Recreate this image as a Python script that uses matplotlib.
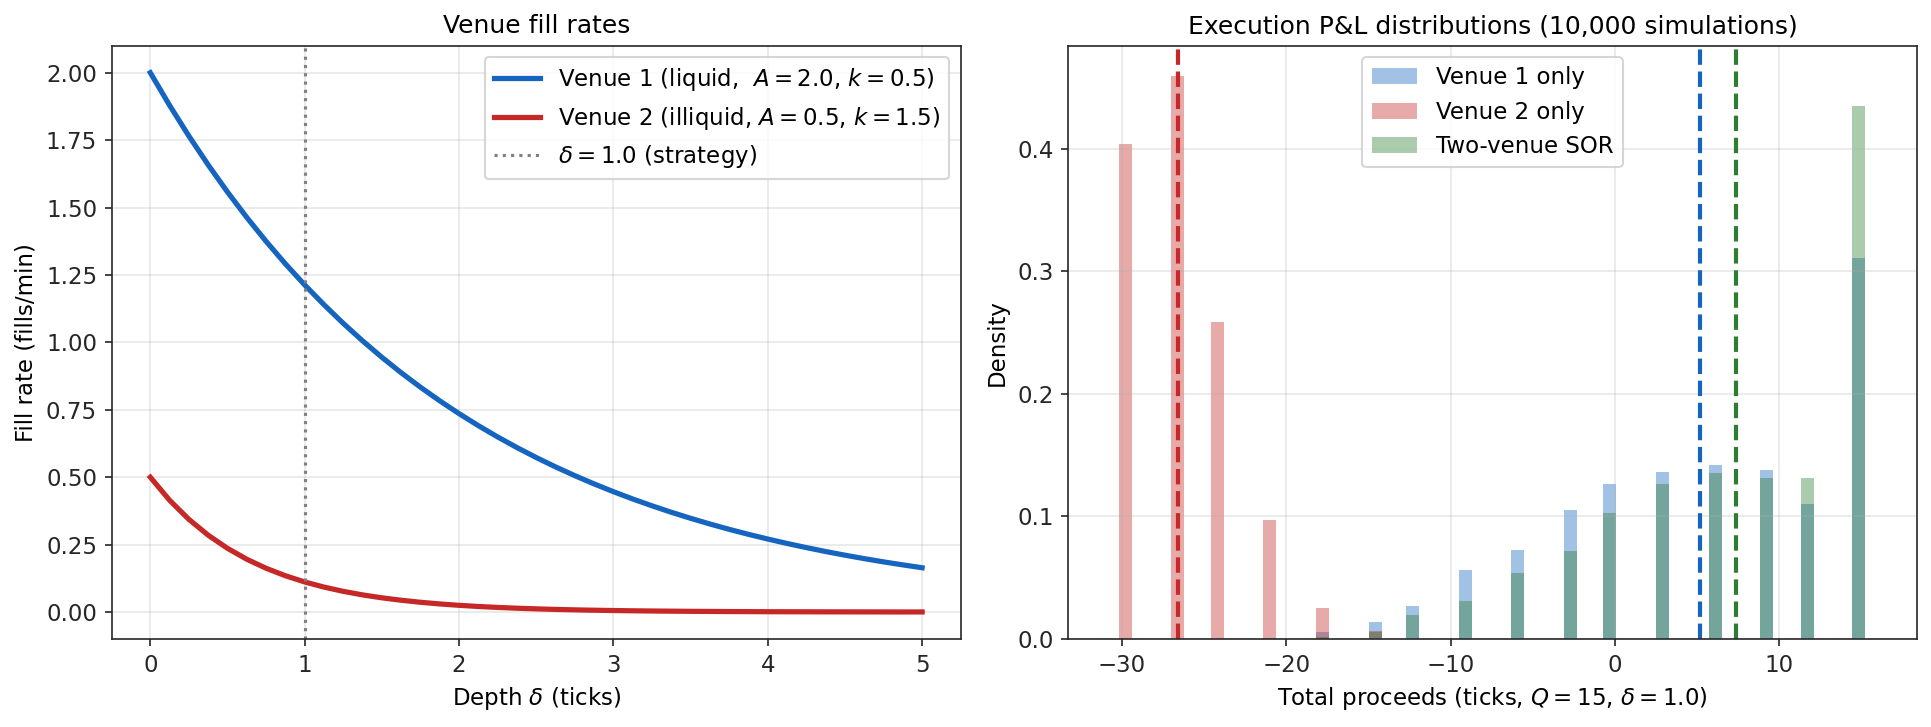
import matplotlib.pyplot as plt
import numpy as np

# left panel: fill rate curves (depth in ticks)
depth = [0, 0.125, 0.25, 0.375, 0.5, 0.625, 0.75, 0.875, 1.0, 1.125, 1.25, 1.375,
         1.5, 1.625, 1.75, 1.875, 2.0, 2.125, 2.25, 2.375, 2.5, 2.625, 2.75, 2.875,
         3.0, 3.125, 3.25, 3.375, 3.5, 3.625, 3.75, 3.875, 4.0, 4.125, 4.25, 4.375,
         4.5, 4.625, 4.75, 4.875, 5.0]
rate_v1 = [2.0, 1.8788, 1.7650, 1.6581, 1.5576, 1.4633, 1.3746, 1.2913, 1.2131,
           1.1396, 1.0705, 1.0057, 0.9447, 0.8875, 0.8337, 0.7832, 0.7358, 0.6912,
           0.6493, 0.6100, 0.5730, 0.5383, 0.5057, 0.4751, 0.4463, 0.4193, 0.3939,
           0.3700, 0.3476, 0.3265, 0.3067, 0.2881, 0.2707, 0.2543, 0.2389, 0.2244,
           0.2108, 0.1980, 0.1860, 0.1748, 0.1642]
rate_v2 = [0.5, 0.4145, 0.3436, 0.2849, 0.2362, 0.1958, 0.1623, 0.1346, 0.1116,
           0.0925, 0.0767, 0.0636, 0.0527, 0.0437, 0.0362, 0.0300, 0.0249, 0.0206,
           0.0171, 0.0142, 0.0118, 0.0097, 0.0081, 0.0067, 0.0056, 0.0046, 0.0038,
           0.0032, 0.0026, 0.0022, 0.0018, 0.0015, 0.0012, 0.0010, 0.0009, 0.0007,
           0.0006, 0.0005, 0.0004, 0.0003, 0.0003]
delta_strategy = 1.0

# right panel: histogram bins (centres) and densities
bin_centers = [-29.8, -26.6, -24.2, -21.0, -17.8, -14.6, -12.3, -9.1, -5.9,
               -2.7, -0.3, 2.9, 6.1, 9.2, 11.7, 14.8]
dens_v1 = [0, 0, 0, 0.001, 0.006, 0.0141, 0.0266, 0.0565, 0.0728,
           0.1055, 0.1267, 0.1366, 0.1423, 0.138, 0.1104, 0.3104]
dens_v2 = [0.404, 0.459, 0.2583, 0.0973, 0.0255, 0.0068, 0, 0, 0,
           0, 0, 0, 0, 0, 0, 0]
dens_sor = [0, 0, 0, 0.001, 0.002, 0.006, 0.0198, 0.0312, 0.054,
            0.072, 0.103, 0.1267, 0.1357, 0.1315, 0.1317, 0.4347]
mean_v1 = 5.17
mean_v2 = -26.58
mean_sor = 7.36

blue = '#1565C0'
red = '#C62828'
green = '#2E7D32'
dark = '#262626'

plt.rcParams['axes.edgecolor'] = dark
plt.rcParams['xtick.color'] = dark
plt.rcParams['ytick.color'] = dark
plt.rcParams['font.size'] = 11

fig = plt.figure(figsize=(1931 / 150, 727 / 150), dpi=150)
ax1 = fig.add_axes([111.7 / 1931, 1 - 639 / 727, (960.7 - 111.7) / 1931, (639 - 45.7) / 727])
ax2 = fig.add_axes([1068.3 / 1931, 1 - 639 / 727, (1916.7 - 1068.3) / 1931, (639 - 45.7) / 727])

# Левый график
ax1.plot(depth, rate_v1, color=blue, lw=2.5, label=r'Venue 1 (liquid,  $A=2.0$, $k=0.5$)')
ax1.plot(depth, rate_v2, color=red, lw=2.5, label=r'Venue 2 (illiquid, $A=0.5$, $k=1.5$)')
ax1.axvline(delta_strategy, color='gray', ls=':', lw=1.5, label=r'$\delta=1.0$ (strategy)')
ax1.set_xlim(-0.25, 5.25)
ax1.set_ylim(-0.1, 2.1)
ax1.set_title('Venue fill rates', fontsize=12)
ax1.set_xlabel(r'Depth $\delta$ (ticks)')
ax1.set_ylabel('Fill rate (fills/min)')
ax1.grid(True, alpha=0.3)
ax1.legend(loc='upper right')

# Правый график
w = 0.79
ax2.bar(bin_centers, dens_v1, width=w, color=blue, alpha=0.4, label='Venue 1 only')
ax2.bar(bin_centers, dens_v2, width=w, color=red, alpha=0.4, label='Venue 2 only')
ax2.bar(bin_centers, dens_sor, width=w, color=green, alpha=0.4, label='Two-venue SOR')
ax2.axvline(mean_v1, color=blue, ls='--', lw=2)
ax2.axvline(mean_v2, color=red, ls='--', lw=2)
ax2.axvline(mean_sor, color=green, ls='--', lw=2)
ax2.set_xlim(-33.27, 18.37)
ax2.set_ylim(0, 0.4839)
ax2.set_title('Execution P&L distributions (10,000 simulations)', fontsize=12)
ax2.set_xlabel(r'Total proceeds (ticks, $Q=15$, $\delta=1.0$)')
ax2.set_ylabel('Density')
ax2.grid(True, alpha=0.3)
ax2.legend(loc='upper center')

fig.savefig('out.png', dpi=150)
